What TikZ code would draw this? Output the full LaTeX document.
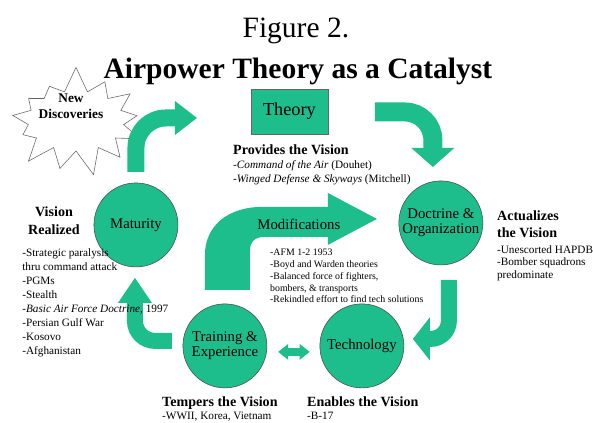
\documentclass[tikz,border=0pt]{standalone}
\usepackage{fontspec}
\setmainfont{Liberation Serif}
\usetikzlibrary{arrows.meta,shapes.symbols}
\definecolor{sea}{RGB}{30,190,140}

\begin{document}
\begin{tikzpicture}[x=0.025cm,y=-0.025cm,
    stage/.style={circle,draw=black!70,thin,fill=sea,minimum size=2.1cm,inner sep=0pt,align=center,font=\fontsize{10.5}{11}\selectfont},
    head/.style={inner sep=0pt,font=\fontsize{10}{12.5}\selectfont\bfseries},
    items/.style={inner sep=0pt,anchor=north west,align=left,font=\fontsize{8}{#1}\selectfont},
    turn/.style n args={4}{draw=sea,line width=#1,rounded corners=#2,-{Triangle[width=#3,length=#4,line width=0pt]}},
    twoway/.style={draw=sea,line width=0.2cm,{Triangle[width=0.4cm,length=0.25cm,line width=0pt]}-{Triangle[width=0.4cm,length=0.25cm,line width=0pt]}},
    burst/.style={starburst,draw=black!60,thin,starburst points=13,starburst point height=0.65cm,minimum width=3.7cm,minimum height=2.8cm,random starburst=7}]
        \fill[white] (0,0) rectangle (593,423);

        \node[font=\fontsize{21}{24}\selectfont,anchor=base] (fig) at (296,38) {Figure 2.};
        \node[font=\fontsize{21}{24}\selectfont\bfseries,anchor=base] (title) at (298,79) {Airpower Theory as a Catalyst};

        \node[burst] (burst) at (76,121) {};
        \node[font=\fontsize{9.5}{11.5}\selectfont\bfseries,align=center] (newdisc) at (71,106) {New\\Discoveries};

        \node[rectangle,draw=black!60,thin,fill=sea,minimum width=1.925cm,minimum height=1.125cm,font=\fontsize{13}{15}\selectfont] (theory) at (289.5,111.5) {Theory};
        \node[stage] (doctrine) at (441,223) {Doctrine \&\\Organization};
        \node[stage] (tech) at (362,346) {Technology};
        \node[stage] (train) at (225,346) {Training \&\\Experience};
        \node[stage] (mature) at (136,225) {Maturity};

        \coordinate (m1) at (136,172);
        \coordinate (t1) at (197,118);
        \coordinate (t2) at (375,112);
        \coordinate (d1) at (433,167);
        \coordinate (d2) at (449,280);
        \coordinate (k1) at (413,339);
        \coordinate (r1) at (172,341);
        \coordinate (m2) at (135,278);

        \draw[turn={0.425cm}{0.75cm}{0.85cm}{0.55cm}] (m1) |- (t1);
        \draw[turn={0.475cm}{0.7cm}{1.075cm}{0.475cm}] (t2) -| (d1);
        \draw[turn={0.4cm}{0.45cm}{1.075cm}{0.425cm}] (d2) |- (k1);
        \draw[turn={0.4cm}{0.5cm}{0.85cm}{0.625cm}] (r1) -| (m2);
        \draw[twoway] ([shift={(11,6)}]train.east) -- ([shift={(-10,6)}]tech.west);

        \fill[sea] (205,290) -- (205,255) .. controls (205,226) and (228,207) .. (262,207) -- (328,207) -- (328,193) -- (377,219) -- (328,245) -- (328,237) -- (264,237) .. controls (255,237) and (250,242) .. (250,251) -- (250,290) -- cycle;
        \node[font=\fontsize{10.5}{12}\selectfont] (modif) at (299,224) {Modifications};

        \node[head,anchor=base west] (provides) at (233,155) {Provides the Vision};
        \node[items=10.5] (provlist) at (233,160) {-\textit{Command of the Air} (Douhet)\\-\textit{Winged Defense \& Skyways} (Mitchell)};

        \node[head,anchor=north west,align=left,font=\fontsize{10}{12}\selectfont\bfseries] (actual) at (497,211) {Actualizes\\the Vision};
        \node[items=8.9] (actlist) at (497,245) {-Unescorted HAPDB\\-Bomber squadrons\\predominate};

        \node[head,anchor=north,align=center,font=\fontsize{10}{12.8}\selectfont\bfseries] (realized) at (54,207) {Vision\\Realized};
        \node[items=10] (reallist) at (22,248) {-Strategic paralysis\\thru command attack\\-PGMs\\-Stealth\\-\textit{Basic Air Force Doctrine}, 1997\\-Persian Gulf War\\-Kosovo\\-Afghanistan};

        \node[items=8.4,font=\fontsize{7}{8.4}\selectfont] (modlist) at (270,249) {-AFM 1-2 1953\\-Boyd and Warden theories\\-Balanced force of fighters,\\bombers, \& transports\\-Rekindled effort to find tech solutions};

        \node[head,anchor=base west] (tempers) at (162,407) {Tempers the Vision};
        \node[inner sep=0pt,anchor=base west,font=\fontsize{8}{10}\selectfont] (templist) at (162,420) {-WWII, Korea, Vietnam};
        \node[head,anchor=base west] (enables) at (307,407) {Enables the Vision};
        \node[inner sep=0pt,anchor=base west,font=\fontsize{8}{10}\selectfont] (enablist) at (307,420) {-B-17};
    \end{tikzpicture}
\end{document}
